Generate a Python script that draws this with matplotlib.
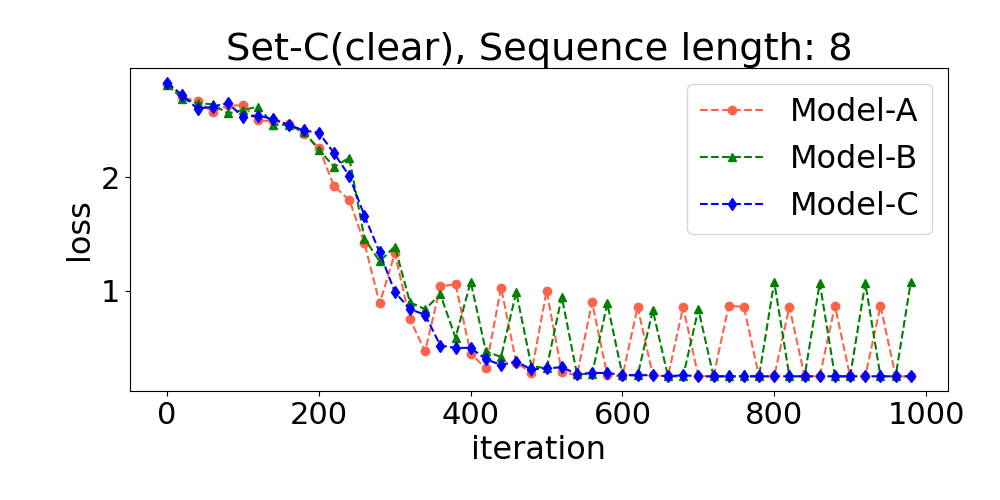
import matplotlib
matplotlib.use("Agg")
import matplotlib.pyplot as plt
import numpy as np

iterations = list(range(0, 1000, 20))

model_a = [2.82, 2.70, 2.67, 2.57, 2.63, 2.63, 2.50, 2.49, 2.47, 2.38,
           2.26, 1.92, 1.80, 1.42, 0.89, 1.33, 0.75, 0.47, 1.04, 1.06,
           0.45, 0.32, 1.03, 0.37, 0.28, 1.00, 0.29, 0.26, 0.90, 0.26,
           0.25, 0.86, 0.26, 0.25, 0.86, 0.25, 0.25, 0.87, 0.86, 0.25,
           0.25, 0.86, 0.25, 0.25, 0.87, 0.25, 0.25, 0.87, 0.25, 0.25]

model_b = [2.81, 2.69, 2.65, 2.64, 2.56, 2.59, 2.62, 2.46, 2.46, 2.40,
           2.24, 2.09, 2.17, 1.46, 1.26, 1.39, 0.90, 0.84, 0.97, 0.59,
           1.08, 0.47, 0.42, 0.99, 0.34, 0.32, 0.95, 0.27, 0.27, 0.89,
           0.26, 0.26, 0.83, 0.25, 0.25, 0.84, 0.25, 0.25, 0.25, 0.25,
           1.08, 0.25, 0.25, 1.07, 0.25, 0.25, 1.07, 0.25, 0.25, 1.08]

model_c = [2.83, 2.72, 2.60, 2.62, 2.65, 2.53, 2.54, 2.51, 2.46, 2.41,
           2.39, 2.21, 2.01, 1.66, 1.34, 0.99, 0.84, 0.79, 0.52, 0.50,
           0.50, 0.40, 0.35, 0.38, 0.31, 0.32, 0.33, 0.27, 0.28, 0.28,
           0.26, 0.26, 0.26, 0.25, 0.26, 0.25, 0.25, 0.25, 0.25, 0.25,
           0.25, 0.25, 0.25, 0.25, 0.25, 0.25, 0.25, 0.25, 0.25, 0.25]

labels = ["Model-A", "Model-B", "Model-C"]
title = "Set-C(clear), Sequence length: 8"

fig, ax = plt.subplots(figsize=(10, 5), dpi=100)
fig.subplots_adjust(left=0.13, right=0.948, top=0.864, bottom=0.218)

ax.plot(iterations, model_a, linestyle="--", marker="o", color="tomato", label=labels[0])
ax.plot(iterations, model_b, linestyle="--", marker="^", color="green", label=labels[1])
ax.plot(iterations, model_c, linestyle="--", marker="d", color="blue", label=labels[2])

ax.set_title(title, fontsize=27.6)
ax.set_xlabel("iteration", fontsize=23)
ax.set_ylabel("loss", fontsize=23)
ax.tick_params(axis="both", labelsize=22)
ax.legend(fontsize=23, loc="upper right")

fig.savefig("out.png")
